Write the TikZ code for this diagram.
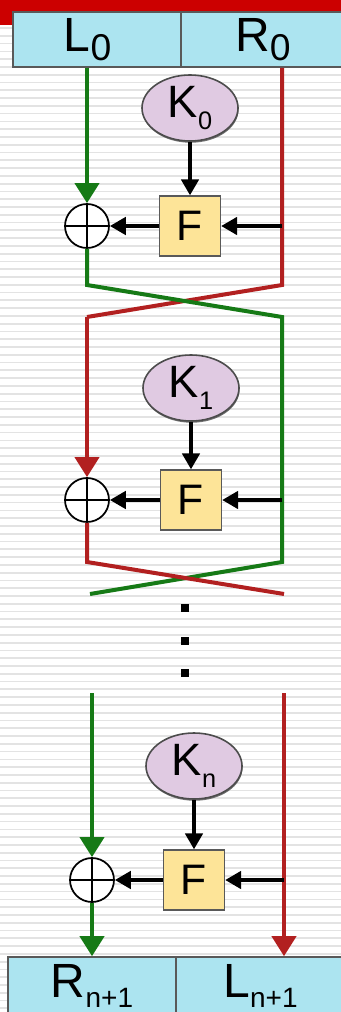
\documentclass[tikz,border=0pt]{standalone}
\usepackage{fontspec}
\setmainfont{Liberation Sans}
\usetikzlibrary{arrows.meta,shapes.geometric,shadows}

\definecolor{wgreen}{RGB}{22,122,22}
\definecolor{wred}{RGB}{178,32,32}
\definecolor{band}{RGB}{204,0,0}
\definecolor{halfblue}{RGB}{172,228,240}
\definecolor{keypink}{RGB}{224,202,226}
\definecolor{fyellow}{RGB}{253,228,152}

% lowered, smaller index
\newcommand{\lowsub}[3]{\raisebox{-#3}{\fontsize{#2}{#2}\selectfont #1}}

\begin{document}
\begin{tikzpicture}[x=0.75pt, y=-0.75pt,
	half/.style={draw=black!65, line width=1.2pt, fill=halfblue, inner sep=0pt, minimum height=41.5pt, font=\fontsize{36}{36}\selectfont},
	key/.style={ellipse, draw=black!70, line width=1.2pt, fill=keypink, inner sep=0pt, minimum width=72pt, minimum height=49.5pt, font=\fontsize{34}{34}\selectfont, drop shadow={shadow xshift=0.4pt, shadow yshift=-1.3pt, fill=black!70, opacity=0.8}},
	fbox/.style={draw=black!65, line width=1pt, fill=fyellow, inner sep=0pt, minimum width=45.75pt, minimum height=45pt, font=\fontsize{32}{32}\selectfont, drop shadow={shadow xshift=0.4pt, shadow yshift=-1pt, fill=black!70, opacity=0.7}},
	xor/.style={circle, draw, line width=1.3pt, fill=white, inner sep=0pt, minimum size=33pt,
		path picture={\draw[line width=1.1pt] (path picture bounding box.north) -- (path picture bounding box.south) (path picture bounding box.west) -- (path picture bounding box.east);}},
	dot/.style={rectangle, fill=black, inner sep=0pt, minimum size=6pt},
	gw/.style={wgreen, line width=3pt},
	rw/.style={wred, line width=3pt},
	bw/.style={black, line width=2.8pt},
	bigtip/.style={-{Triangle[width=18pt,length=15pt]}},
	smalltip/.style={-{Triangle[width=13pt,length=12pt]}},
	stripe/.style={gray!22, line width=1.3pt}]

\useasboundingbox (0,0) rectangle (341,1012);

% ruled background
\foreach \s in {0,...,130}
	\draw[stripe] (0,{4.7+7.78*\s}) -- (341,{4.7+7.78*\s});

\fill[band] (0,0) rectangle (341,12) (0,12) rectangle (13,25);

% halves
\node[half, minimum width=126pt] (L0) at (97,39.5) {L\lowsub{0}{28}{7pt}\hspace*{14pt}};
\node[half, minimum width=123pt] (R0) at (263,39.5) {R\lowsub{0}{28}{7pt}};
\node[half, minimum width=126pt, minimum height=43.5pt] (Rn) at (92,986) {R\lowsub{n+1}{21}{7.5pt}};
\node[half, minimum width=126.75pt, minimum height=43.5pt] (Ln) at (260.5,986) {L\lowsub{n+1}{21}{7.5pt}};

% round keys, F boxes, xors
\node[key] (K0) at (190,108) {K\lowsub{0}{19}{9pt}};
\node[fbox] (F0) at (190,226) {F};
\node[xor] (x0) at (87,226) {};

\node[key] (K1) at (191,388) {K\lowsub{1}{19}{9pt}};
\node[fbox] (F1) at (191,500) {F};
\node[xor] (x1) at (87,500) {};

\node[key] (K2) at (194,766) {K\lowsub{n}{19}{9pt}};
\node[fbox] (F2) at (194,880) {F};
\node[xor] (x2) at (92,880) {};

\node[dot] (d1) at (185,608) {};
\node[dot] (d2) at (185,641) {};
\node[dot] (d3) at (185,673) {};

% wire corners
\coordinate (p1) at (87,285);
\coordinate (q1) at (282,285);
\coordinate (p2) at (87,317);
\coordinate (q2) at (282,317);
\coordinate (p3) at (87,562);
\coordinate (q3) at (282,562);
\coordinate (p4) at (90,594);
\coordinate (q4) at (284,594);
\coordinate (p5) at (92,693);
\coordinate (q5) at (284,693);

% round 0
\draw[gw,bigtip] (L0.south -| x0) -- (x0);
\draw[rw] (R0.south -| q1) -- (q1) -- (p2);
\draw[bw,smalltip] (K0) -- (F0);
\draw[bw,smalltip] (F0 -| q1) -- (F0);
\draw[bw,smalltip] (F0) -- (x0);
\draw[gw] (x0) -- (p1) -- (q2) -- (q3) -- (p4);

% round 1
\draw[rw,bigtip] (p2) -- (x1);
\draw[bw,smalltip] (K1) -- (F1);
\draw[bw,smalltip] (F1 -| q2) -- (F1);
\draw[bw,smalltip] (F1) -- (x1);
\draw[rw] (x1) -- (p3) -- (q4);

% round n
\draw[gw,bigtip] (p5) -- (x2);
\draw[rw,bigtip] (q5) -- (Ln.north -| q5);
\draw[bw,smalltip] (K2) -- (F2);
\draw[bw,smalltip] (F2 -| q5) -- (F2);
\draw[bw,smalltip] (F2) -- (x2);
\draw[gw,bigtip] (x2) -- (Rn.north -| x2);

\end{tikzpicture}
\end{document}
